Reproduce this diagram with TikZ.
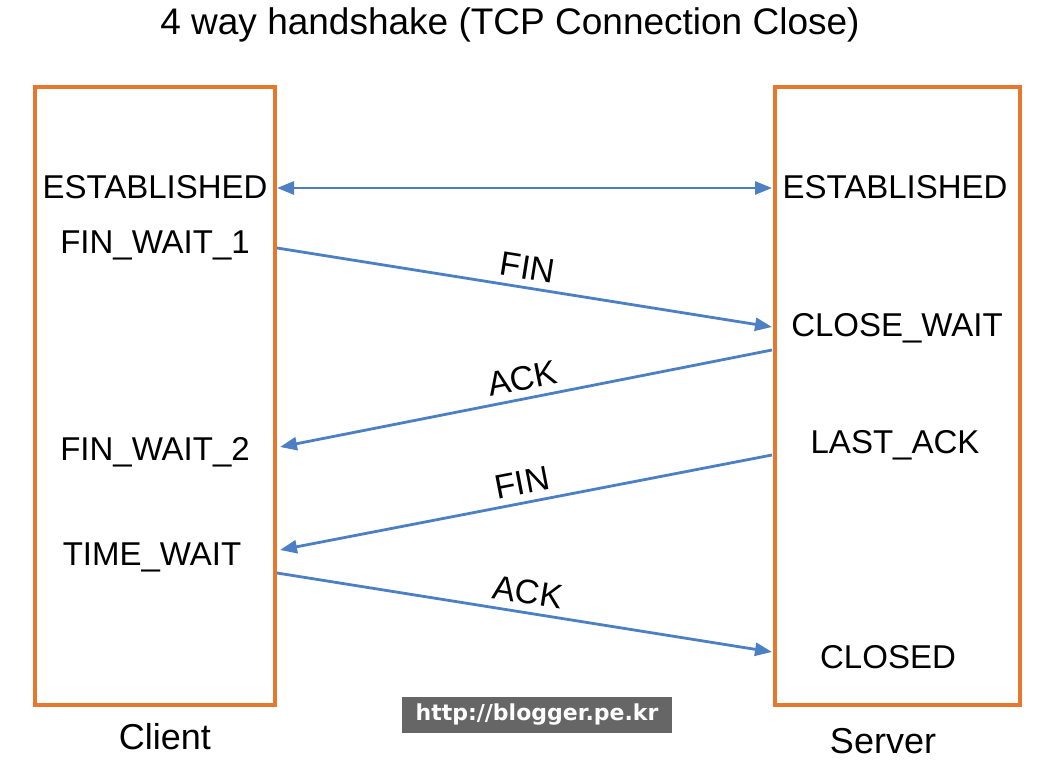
\documentclass[tikz,border=0pt]{standalone}
\usepackage{fontspec}
\setmainfont{Liberation Sans}
\newfontfamily\markfont{DejaVu Sans}
\usetikzlibrary{arrows.meta}
\definecolor{Boxcolor}{RGB}{229, 120, 45}
\definecolor{Msgcolor}{RGB}{76, 127, 196}
\definecolor{Markcolor}{RGB}{102, 102, 102}
\tikzset{
    hostbox/.style={draw=Boxcolor, line width=4pt},
    state/.style={inner sep=0pt, font=\fontsize{33}{38}\selectfont},
    hostname/.style={inner sep=0pt, font=\fontsize{36}{40}\selectfont},
    msg/.style={draw=Msgcolor, line width=2.8pt, -{Triangle[length=17pt, width=13pt]}},
    msglabel/.style={sloped, above=7pt, inner sep=0pt, font=\fontsize{34}{38}\selectfont},
}
\begin{document}
\begin{tikzpicture}[x=1pt, y=1pt]
            \def\clientedge{277}
            \def\serveredge{772}
            \useasboundingbox (0, 0) rectangle (1056, 768);
            \node[font=\fontsize{37}{42}\selectfont] (title) at (510, 743) {4 way handshake (TCP Connection Close)};
            \draw[hostbox] (35, 63) rectangle (275, 681);
            \draw[hostbox] (775, 63) rectangle (1020, 681);
            \node[hostname] (clientname) at (165, 31) {Client};
            \node[hostname] (servername) at (883, 27) {Server};
            % client states
            \node[state] (cest) at (155, 581) {ESTABLISHED};
            \node[state] (cfin1) at (155, 523) {FIN\_WAIT\_1};
            \node[state] (cfin2) at (155, 316) {FIN\_WAIT\_2};
            \node[state] (ctime) at (152, 211) {TIME\_WAIT};
            % server states
            \node[state] (sest) at (895, 581) {ESTABLISHED};
            \node[state] (sclose) at (897, 440) {CLOSE\_WAIT};
            \node[state] (slast) at (895, 323) {LAST\_ACK};
            \node[state] (sclosed) at (888, 111) {CLOSED};
            % message end points on the boxes
            \coordinate (cA) at (\clientedge, 580);
            \coordinate (sA) at (\serveredge, 580);
            \coordinate (cB) at (\clientedge, 520);
            \coordinate (sB) at (\serveredge, 441);
            \coordinate (sC) at (\serveredge, 418);
            \coordinate (cC) at (280, 321);
            \coordinate (sD) at (\serveredge, 313);
            \coordinate (cD) at (280, 218);
            \coordinate (cE) at (\clientedge, 195);
            \coordinate (sE) at (\serveredge, 116);
            \draw[msg, {Triangle[length=17pt, width=13pt]}-{Triangle[length=17pt, width=13pt]}] (cA) -- (sA);
            \draw[msg] (cB) -- node[msglabel] (fin1) {FIN} (sB);
            \draw[msg] (sC) -- node[msglabel] (ack1) {ACK} (cC);
            \draw[msg] (sD) -- node[msglabel] (fin2) {FIN} (cD);
            \draw[msg] (cE) -- node[msglabel] (ack2) {ACK} (sE);
            \node[fill=Markcolor, text=white, inner sep=3pt, minimum width=270pt, minimum height=36pt, font=\markfont\bfseries\fontsize{22}{26}\selectfont] (mark) at (537, 53) {http://blogger.pe.kr};
        \end{tikzpicture}
\end{document}
